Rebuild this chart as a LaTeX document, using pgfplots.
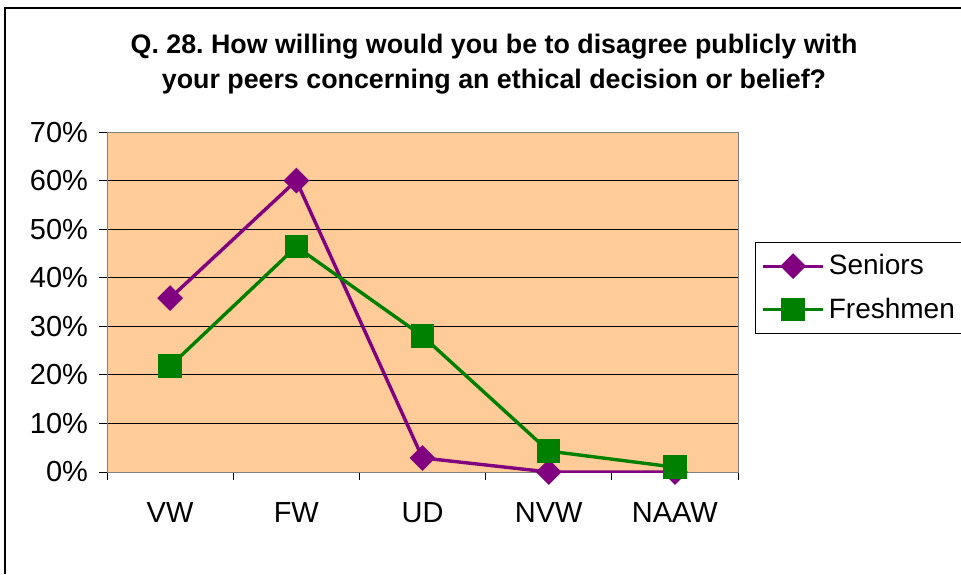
\documentclass[border=0pt]{standalone}
\usepackage{pgfplots}
\pgfplotsset{compat=1.18}
\usepackage{fontspec}
\setmainfont{Liberation Sans}
\definecolor{plotbg}{HTML}{FFCC99}
\definecolor{senior}{HTML}{800080}
\definecolor{fresh}{HTML}{008000}
\frenchspacing

\begin{document}
\begin{tikzpicture}
\useasboundingbox (0,0) rectangle (480.5pt,287pt);
% outer chart frame (cut off at right and bottom)
\draw[black, line width=0.6pt] (2.5pt,0) -- (2.5pt,283pt) -- (481pt,283pt);
\node[align=center, font=\bfseries\fontsize{13.4}{17.5}\selectfont] at (247pt,255pt)
  {Q. 28. How willing would you be to disagree publicly with\\your peers concerning an ethical decision or belief?};
\begin{axis}[
    at={(53.5pt,51pt)}, anchor=south west,
    scale only axis, width=315.5pt, height=170pt,
    xmin=0.5, xmax=5.5, ymin=0, ymax=70,
    axis background/.style={fill=plotbg},
    axis line style={draw=gray},
    xtick={1,2,3,4,5},
    xticklabels={VW,FW,UD,NVW,NAAW},
    minor xtick={0.5,1.5,2.5,3.5,4.5,5.5},
    major x tick style={draw=none},
    minor x tick style={draw=black, thin},
    xtick pos=lower, ytick pos=left,
    ytick={0,10,...,70},
    y tick style={draw=black, thin},
    tick align=outside,
    major tick length=4pt, minor tick length=4pt,
    ymajorgrids, grid style={black, thin},
    yticklabel={\pgfmathprintnumber{\tick}\%},
    /pgf/number format/assume math mode=true,
    tick label style={font=\fontsize{14.5}{16}\selectfont},
    yticklabel style={xshift=-2pt},
    xticklabel style={yshift=-7.5pt},
    legend style={at={(1.027,0.676)}, anchor=north west, draw=black, thin,
      font=\fontsize{14}{16}\selectfont, row sep=6pt, inner xsep=3pt, inner ysep=4pt},
    legend cell align=left,
    legend image code/.code={
      \draw[mark repeat=2, mark phase=2] plot coordinates {(0pt,0pt) (15pt,0pt) (30pt,0pt)};},
]
\addplot[senior, line width=1.7pt, mark=square*, mark size=3.7pt, mark options={rotate=45, solid}]
  coordinates {(1,35.8) (2,60) (3,2.9) (4,0) (5,0)};
\addlegendentry{Seniors}
\addplot[fresh, line width=1.7pt, mark=square*, mark size=5pt, mark options={solid}]
  coordinates {(1,21.8) (2,46.4) (3,28) (4,4.3) (5,1)};
\addlegendentry{Freshmen}
\end{axis}
\end{tikzpicture}
\end{document}
